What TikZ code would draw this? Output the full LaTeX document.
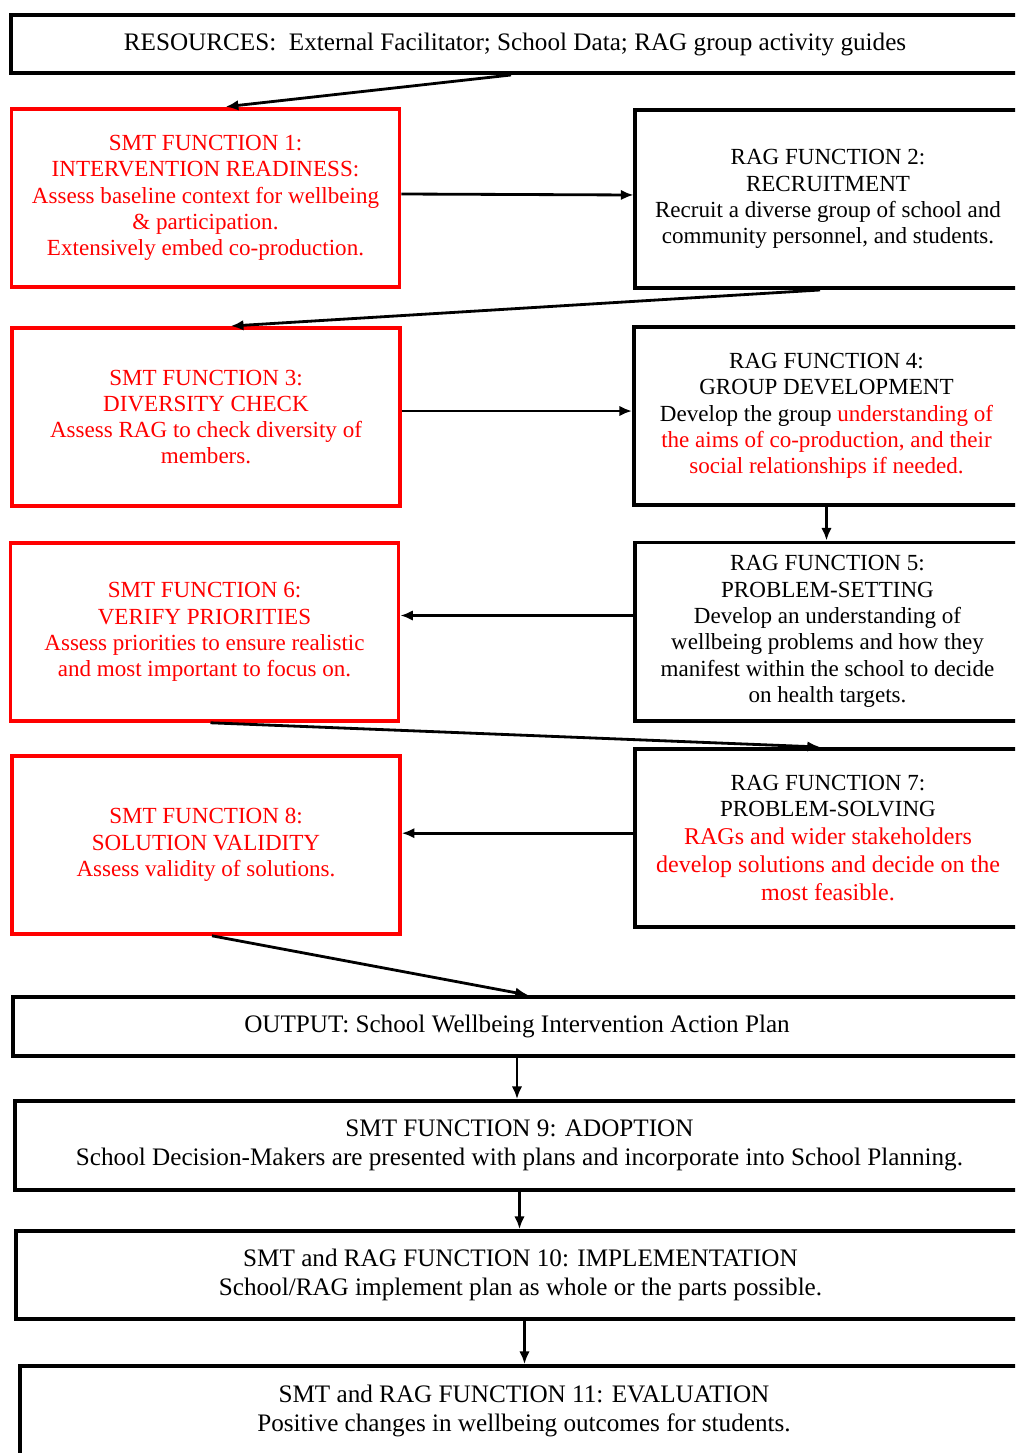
\documentclass[tikz,border=0pt]{standalone}
\usepackage{fontspec}
\setmainfont{Liberation Serif}
\usetikzlibrary{arrows.meta,positioning}

\newcommand\bigred[1]{{\fontsize{17.1}{20.5}\selectfont\color{red}#1}}

\tikzset{
  box/.style={draw, line width=2.8pt, inner sep=0pt, align=center,
    font=\fontsize{16.4}{18.7}\selectfont},
  smt/.style={box, draw=red, text=red, line width=2.5pt,
    minimum width=9.7cm, minimum height=4.45cm},
  rag/.style={box, minimum width=9.625cm, minimum height=4.45cm},
  wide/.style={box, minimum width=25.2cm, font=\fontsize{17.9}{20.6}\selectfont},
  flow/.style={-{Latex[length=9pt,width=7.5pt]}, line width=2pt}
}

\begin{document}
\begin{tikzpicture}[x=0.025cm,y=-0.025cm]
   \useasboundingbox (0,0) rectangle (1015,1453);
   \clip (0,0) rectangle (1015,1453);

   \node[wide, minimum height=1.45cm] (res) at (515,44)
     {RESOURCES:\ \ External Facilitator; School Data; RAG group activity guides};

   \node[smt] (smt1) at (205.5,198) {SMT FUNCTION 1:\\INTERVENTION READINESS:\\Assess baseline context for wellbeing\\\& participation.\\Extensively embed co-production.};
   \node[rag] (rag2) at (828,199) {RAG FUNCTION 2:\\RECRUITMENT\\Recruit a diverse group of school and\\community personnel, and students.};
   \node[smt] (smt3) at (206,417) {SMT FUNCTION 3:\\DIVERSITY CHECK\\Assess RAG to check diversity of\\members.};
   \node[rag] (rag4) at (826.5,416) {RAG FUNCTION 4:\\GROUP DEVELOPMENT\\Develop the group \textcolor{red}{understanding of}\\\textcolor{red}{the aims of co-production, and their}\\\textcolor{red}{social relationships if needed.}};
   \node[smt] (smt6) at (204.5,632) {SMT FUNCTION 6:\\VERIFY PRIORITIES\\Assess priorities to ensure realistic\\and most important to focus on.};
   \node[rag] (rag5) at (827.5,631.5) {RAG FUNCTION 5:\\PROBLEM-SETTING\\Develop an understanding of\\wellbeing problems and how they\\manifest within the school to decide\\on health targets.};
   \node[smt] (smt8) at (206,845) {SMT FUNCTION 8:\\SOLUTION VALIDITY\\Assess validity of solutions.};
   \node[rag] (rag7) at (828,838) {RAG FUNCTION 7:\\PROBLEM-SOLVING\\[1pt]\bigred{RAGs and wider stakeholders}\\[1.5pt]\bigred{develop solutions and decide on the}\\[1.5pt]\bigred{most feasible.}};

   % bottom strip of full-width boxes
   \node[wide, minimum height=1.475cm] (out) at (517,1026.5) {OUTPUT: School Wellbeing Intervention Action Plan};
   \node[wide, minimum height=2.225cm] (smt9) at (519.5,1145.5) {SMT FUNCTION 9: ADOPTION\\School Decision-Makers are presented with plans and incorporate into School Planning.};
   \node[wide, minimum height=2.2cm] (smt10) at (520.5,1275) {SMT and RAG FUNCTION 10: IMPLEMENTATION\\School/RAG implement plan as whole or the parts possible.};
   \node[wide, minimum height=2.25cm] (smt11) at (524,1411) {SMT and RAG FUNCTION 11: EVALUATION\\Positive changes in wellbeing outcomes for students.};

   \draw[flow, shorten >=3pt] ([xshift=-0.1cm]res.south) -- ([xshift=0.4cm]smt1.north);
   \draw[flow] ([yshift=0.1cm]smt1.east) -- ([yshift=0.1cm]rag2.west);
   \draw[flow, shorten >=2pt] ([xshift=-0.2cm]rag2.south) -- ([xshift=0.55cm]smt3.north);
   \draw[flow] ([yshift=0.15cm]smt3.east) -- ([yshift=0.15cm]smt3.east -| rag4.west);
   \draw[flow] (rag4.south) -- (rag4.south |- rag5.north);
   \draw[flow] ([yshift=0.4cm]rag5.west) -- ([yshift=0.4cm]rag5.west -| smt6.east);
   \draw[flow] ([xshift=0.15cm]smt6.south) -- ([xshift=-0.2cm]rag7.north);
   \draw[flow] ([yshift=0.12cm]rag7.west) -- ([yshift=0.12cm]rag7.west -| smt8.east);
   \draw[flow] ([xshift=0.15cm]smt8.south) -- ([xshift=0.275cm]out.north);
   \draw[flow] (out.south) -- (out.south |- smt9.north);
   \draw[flow] (smt9.south) -- (smt9.south |- smt10.north);
   \draw[flow] ([xshift=0.1cm]smt10.south) -- ([xshift=0.1cm]smt10.south |- smt11.north);
\end{tikzpicture}
\end{document}
